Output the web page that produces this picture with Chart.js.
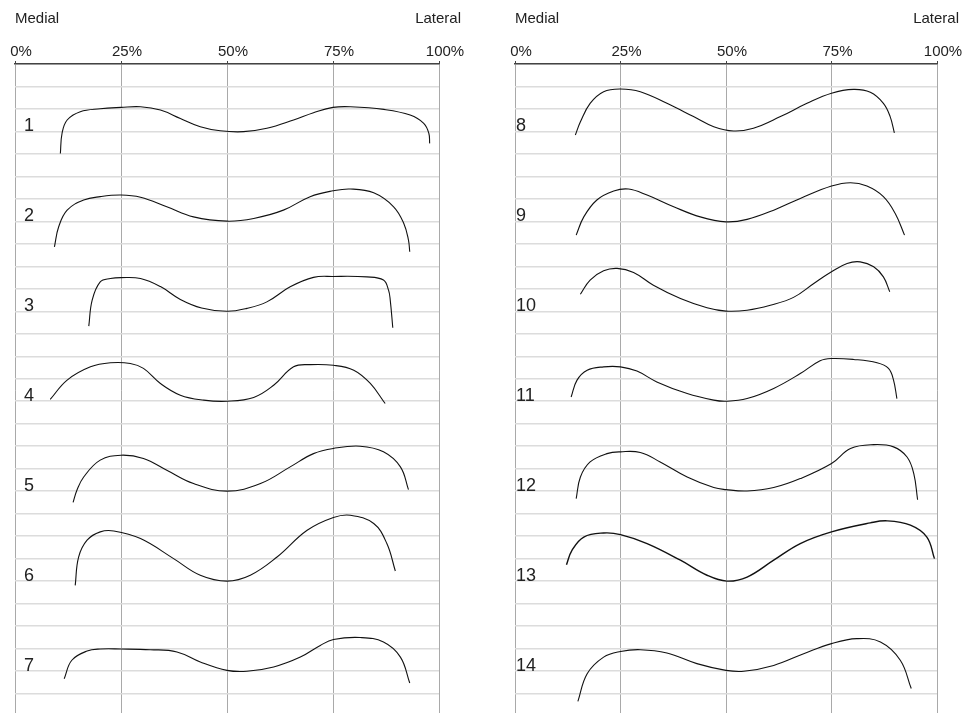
<!DOCTYPE html>
<html>
<head>
<meta charset="utf-8">
<script src="https://cdn.jsdelivr.net/npm/chart.js@4.4.1/dist/chart.umd.min.js"></script>
<style>
  html, body { margin: 0; padding: 0; background: #fff; overflow: hidden; }
  canvas { position: absolute; top: 0; }
  #left { left: 0; }
  #right { left: 480px; }
</style>
</head>
<body>
<canvas id="left" width="480" height="720"></canvas>
<canvas id="right" width="487" height="720"></canvas>
<script>
// x = % of width (medial -> lateral), y = grid row (0 at the top axis)
const sideLabels = ['Medial', 'Lateral'];
const tickValues = [0, 25, 50, 75, 100];

const profile1 = [[10.7,3.98],[11.1,3.08],[12.3,2.49],[15.4,2.12],[20.1,1.99],[25,1.93],[29.6,1.90],[34.3,2.05],[39,2.42],[43.7,2.79],[48.4,2.97],[53.9,3.01],[59.4,2.86],[65.7,2.49],[70.4,2.17],[75,1.93],[79.1,1.90],[87,2.02],[93.2,2.27],[96.4,2.64],[97.6,3.08],[97.8,3.53]];
const profile2 = [[9.3,8.13],[10.3,7.24],[12.3,6.5],[16.2,6.05],[20.1,5.9],[25,5.83],[29.6,5.93],[35.8,6.35],[42.1,6.8],[50,6.99],[56.3,6.87],[63.3,6.5],[69.6,5.9],[75,5.64],[79.1,5.56],[84.6,5.73],[89.3,6.35],[91.7,7.09],[92.8,7.83],[93.1,8.35]];
const profile3 = [[17.4,11.66],[18.2,10.5],[20.1,9.69],[22.5,9.54],[25,9.5],[29.6,9.54],[34.3,9.9],[39,10.47],[44,10.85],[50,11.0],[54.7,10.87],[59.4,10.58],[64.9,9.91],[70.4,9.49],[75,9.45],[83,9.47],[86.9,9.61],[88.1,10.06],[88.5,10.5],[89.1,11.73]];
const profile4 = [[8.3,14.92],[12.3,14.06],[17.8,13.47],[22.5,13.29],[27.2,13.32],[30.3,13.54],[34.3,14.21],[39,14.73],[44.5,14.95],[50,15.0],[56.3,14.83],[61,14.29],[65.7,13.47],[69.6,13.37],[75.1,13.4],[79.9,13.62],[83.8,14.21],[87.3,15.1]];
const profile5 = [[13.7,19.5],[14.6,18.96],[16.2,18.37],[20.1,17.62],[25,17.4],[30.3,17.55],[35.8,18.07],[42.1,18.66],[50,19.0],[57.9,18.66],[64.9,17.92],[70.4,17.33],[75.1,17.1],[81.4,17.0],[86.9,17.25],[90.9,17.92],[92.8,18.93]];
const profile6 = [[14.2,23.19],[15,21.93],[17,21.18],[20.1,20.81],[23.3,20.77],[29.6,21.11],[37.4,22.0],[43.7,22.74],[50,23.0],[55.5,22.74],[61.8,21.93],[68.9,20.74],[75.1,20.17],[79.1,20.07],[84.6,20.44],[87.7,21.33],[89.7,22.55]];
const profile7 = [[11.6,27.34],[13.4,26.52],[17,26.11],[20.1,26.02],[25,26.02],[31.9,26.05],[38.2,26.15],[43.7,26.6],[50,26.97],[54.7,27.01],[61,26.82],[67.3,26.38],[72,25.86],[75.1,25.6],[81.4,25.51],[86.9,25.71],[90.9,26.38],[93.1,27.53]];

const profile8 = [[14.3,3.16],[15.5,2.57],[17.8,1.75],[21,1.23],[25,1.11],[29.7,1.23],[36,1.75],[42.3,2.34],[47.1,2.79],[51.8,2.98],[56.5,2.86],[62.9,2.34],[69.2,1.75],[75,1.30],[80.2,1.13],[84.2,1.26],[87.3,1.75],[88.9,2.34],[89.9,3.06]];
const profile9 = [[14.5,7.61],[16.3,6.8],[19.4,6.05],[23.4,5.65],[26.9,5.56],[31.3,5.83],[37.6,6.35],[43.9,6.8],[50,7.02],[55,6.91],[61.3,6.5],[67.6,5.98],[75,5.43],[79.5,5.28],[83.4,5.43],[87.3,5.9],[90.1,6.65],[92.3,7.61]];
const profile10 = [[15.5,10.24],[17.8,9.61],[21,9.2],[24.2,9.09],[28.1,9.27],[32.8,9.84],[39.2,10.43],[45.5,10.84],[50,10.99],[55,10.95],[60.5,10.73],[66,10.38],[70.8,9.76],[75,9.24],[78.7,8.87],[81.8,8.8],[85,9.02],[87.3,9.47],[88.8,10.13]];
const profile11 = [[13.3,14.81],[14.7,14.06],[17.1,13.62],[21,13.47],[25,13.47],[28.9,13.66],[33.6,14.14],[40.8,14.66],[47.1,14.95],[50,15.0],[55,14.88],[61.3,14.43],[67.6,13.77],[72.3,13.2],[75,13.1],[80.2,13.14],[85.8,13.29],[88.5,13.54],[89.7,14.06],[90.5,14.88]];
const profile12 = [[14.5,19.33],[15.5,18.37],[17.8,17.7],[21.8,17.33],[25,17.25],[29.7,17.28],[34.4,17.7],[40.8,18.37],[47.1,18.84],[50,18.93],[55,18.99],[61.3,18.84],[67.6,18.44],[75,17.77],[79.5,17.1],[85,16.93],[89.7,17.03],[92.9,17.48],[94.5,18.22],[95.4,19.38]];
const profile13 = [[12.2,22.27],[13.5,21.63],[16.3,21.04],[21,20.86],[25,20.93],[31.3,21.33],[39.2,22.07],[45.5,22.74],[50.2,23.0],[55,22.82],[61.3,22.07],[67.6,21.33],[75,20.81],[84.2,20.41],[88.2,20.32],[93.7,20.51],[97.6,21.04],[99.4,22.0]];
const profile14 = [[14.9,28.35],[17.1,27.12],[21,26.38],[25,26.13],[29.7,26.05],[36,26.2],[43.1,26.67],[50,26.97],[54.2,27.01],[61.3,26.75],[68.4,26.23],[75,25.78],[81,25.56],[86.6,25.71],[91.3,26.52],[93.9,27.78]];

const leftRows = ['1', '2', '3', '4', '5', '6', '7'];
const rightRows = ['8', '9', '10', '11', '12', '13', '14'];
const leftProfiles = [profile1, profile2, profile3, profile4, profile5, profile6, profile7];
const rightProfiles = [profile8, profile9, profile10, profile11, profile12, profile13, profile14];

const FONT = '"Liberation Sans", Arial, Helvetica, sans-serif';

// Medial / Lateral captions and the row numbers
const panelText = {
    id: 'panelText',
    afterDraw(chart, args, opts) {
        const ctx = chart.ctx;
        const area = chart.chartArea;
        const y = chart.scales.y;
        ctx.save();
        ctx.fillStyle = '#222';
        ctx.textBaseline = 'alphabetic';
        ctx.font = '15px ' + FONT;
        ctx.textAlign = 'left';
        ctx.fillText(sideLabels[0], area.left, 23);
        ctx.textAlign = 'right';
        ctx.fillText(sideLabels[1], area.right + 22, 23);
        ctx.font = '18px ' + FONT;
        ctx.textAlign = 'left';
        opts.rows.forEach((name, i) => {
            ctx.fillText(name, area.left + opts.inset, y.getPixelForValue(3 + 4 * i));
        });
        ctx.restore();
    }
};

function makePanel(id, profiles, rows, pad, inset) {
    const ctx = document.getElementById(id).getContext('2d');
    return new Chart(ctx, {
        type: 'line',
        data: {
            datasets: profiles.map((p, i) => ({
                label: rows[i],
                data: p.map(([x, y]) => ({x, y})),
                borderColor: '#111',
                borderWidth: rows[i] === '13' ? 1.4 : 1.1,
                pointRadius: 0,
                fill: false,
                tension: 0.4
            }))
        },
        options: {
            responsive: false,
            animation: false,
            events: [],
            layout: { padding: pad },
            scales: {
                x: {
                    type: 'linear',
                    position: 'top',
                    min: 0,
                    max: 100,
                    afterBuildTicks: s => { s.ticks = tickValues.map(v => ({value: v})); },
                    afterFit: s => { s.height = 34; },
                    ticks: {
                        callback: v => v + '%',
                        color: '#222',
                        font: { family: FONT, size: 15 },
                        padding: 0,
                        labelOffset: 6,
                        maxRotation: 0,
                        autoSkip: false
                    },
                    grid: { color: '#a9a9a9', lineWidth: 1, tickLength: 3, tickColor: '#444' },
                    border: { color: '#444', width: 1.5 }
                },
                y: {
                    type: 'linear',
                    reverse: true,
                    min: 0,
                    max: 29,
                    afterFit: s => { s.width = 0; },
                    ticks: { stepSize: 1, display: false },
                    grid: { color: '#dcdcdc', lineWidth: 1.5, drawTicks: false },
                    border: { display: false }
                }
            },
            plugins: {
                legend: { display: false },
                tooltip: { enabled: false },
                panelText: { rows: rows, inset: inset }
            }
        },
        plugins: [panelText]
    });
}

makePanel('left', leftProfiles, leftRows, {left: 15, right: 41, top: 30, bottom: 4}, 9);
makePanel('right', rightProfiles, rightRows, {left: 35, right: 30, top: 30, bottom: 4}, 1);
</script>
</body>
</html>
